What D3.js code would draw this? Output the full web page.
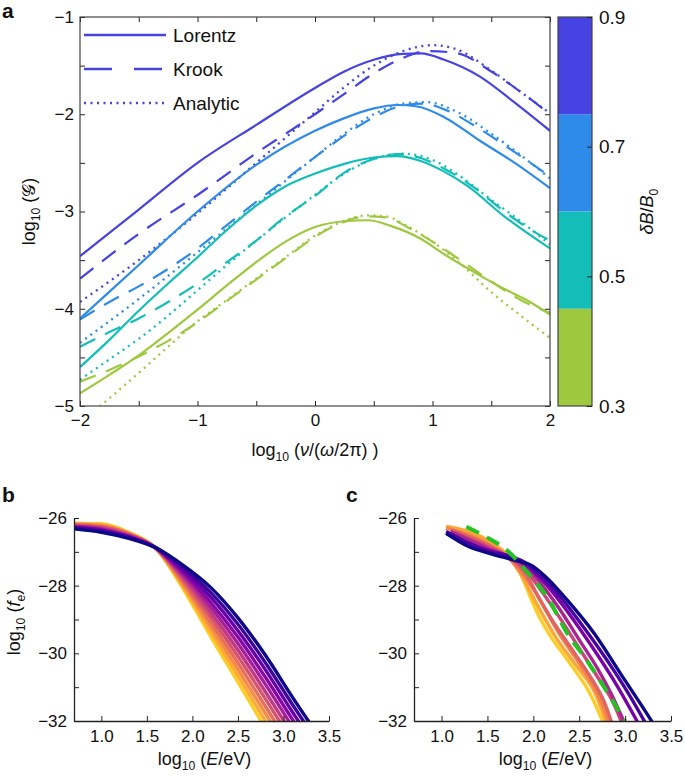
<!DOCTYPE html>
<html>
<head>
<meta charset="utf-8">
<script src="https://cdn.jsdelivr.net/npm/d3@7"></script>
<style>
  body { margin: 0; background: #fff; }
  svg { font-family: "Liberation Sans", Arial, sans-serif; }
</style>
</head>
<body>
<svg id="fig" width="685" height="777"></svg>
<script>
// panel a: spectrum of G for 4 values of dB/B0
const freqTicks = [-2, -1, 0, 1, 2];
const gTicks = [-1, -2, -3, -4, -5];
const dBLevels = [0.9, 0.7, 0.5, 0.3];
const dBColors = ["#4643e2", "#2e8bea", "#13beb8", "#9ec83e"];
const cbTicks = [0.9, 0.7, 0.5, 0.3];
const cbBands = [0.3, 0.45, 0.6, 0.75, 0.9];
const legendNames = ["Lorentz", "Krook", "Analytic"];

// [log10 freq, log10 G], one list per dB level (same order as dBLevels)
const lorentz = [
  [[-2,-3.46],[-1.5,-2.98],[-1,-2.5],[-0.5,-2.11],[0,-1.73],[0.25,-1.56],[0.5,-1.44],[0.75,-1.38],[0.9,-1.375],[1.1,-1.44],[1.4,-1.61],[1.7,-1.88],[2,-2.17]],
  [[-2,-4.1],[-1.5,-3.55],[-1,-3.0],[-0.5,-2.52],[0,-2.17],[0.25,-2.04],[0.5,-1.94],[0.7,-1.905],[0.87,-1.92],[1.1,-2.03],[1.4,-2.27],[1.7,-2.5],[2,-2.76]],
  [[-2,-4.6],[-1.75,-4.32],[-1.5,-4.02],[-1.25,-3.74],[-1,-3.47],[-0.75,-3.19],[-0.5,-2.94],[-0.25,-2.74],[0,-2.61],[0.25,-2.51],[0.5,-2.445],[0.7,-2.43],[0.9,-2.48],[1.1,-2.59],[1.3,-2.74],[1.6,-3.04],[2,-3.38]],
  [[-2,-4.87],[-1.75,-4.68],[-1.5,-4.48],[-1.25,-4.25],[-1,-4.01],[-0.75,-3.76],[-0.5,-3.52],[-0.25,-3.31],[0,-3.16],[0.25,-3.1],[0.45,-3.09],[0.65,-3.15],[0.9,-3.28],[1.1,-3.44],[1.35,-3.62],[1.6,-3.79],[1.8,-3.91],[2,-4.06]]
];
const krook = [
  [[-2,-3.69],[-1.5,-3.23],[-1,-2.83],[-0.5,-2.4],[0,-2.0],[0.25,-1.79],[0.5,-1.58],[0.75,-1.42],[0.95,-1.35],[1.2,-1.37],[1.5,-1.56],[1.75,-1.77],[2,-2.0]],
  [[-2,-4.11],[-1.75,-3.93],[-1.5,-3.77],[-1.25,-3.59],[-1,-3.38],[-0.75,-3.14],[-0.5,-2.9],[-0.25,-2.67],[0,-2.44],[0.25,-2.22],[0.5,-2.03],[0.75,-1.91],[0.92,-1.89],[1.1,-1.95],[1.4,-2.15],[1.7,-2.39],[2,-2.64]],
  [[-2,-4.39],[-1.75,-4.24],[-1.5,-4.1],[-1.25,-3.93],[-1,-3.74],[-0.75,-3.52],[-0.5,-3.3],[-0.25,-3.05],[0,-2.84],[0.25,-2.6],[0.5,-2.46],[0.72,-2.41],[0.9,-2.45],[1.1,-2.56],[1.35,-2.75],[1.6,-2.99],[1.8,-3.16],[2,-3.3]],
  [[-2,-4.75],[-1.75,-4.63],[-1.5,-4.49],[-1.25,-4.33],[-1,-4.14],[-0.75,-3.92],[-0.5,-3.7],[-0.25,-3.48],[0,-3.26],[0.2,-3.13],[0.45,-3.05],[0.6,-3.06],[0.8,-3.17],[1.0,-3.31],[1.25,-3.51],[1.5,-3.72],[1.75,-3.91],[2,-4.04]]
];
const analytic = [
  [[-2,-3.93],[-1.5,-3.5],[-1,-3.02],[-0.5,-2.5],[0,-1.98],[0.25,-1.72],[0.5,-1.5],[0.75,-1.35],[1.0,-1.29],[1.2,-1.33],[1.5,-1.55],[1.75,-1.77],[2,-1.99]],
  [[-2,-4.35],[-1.5,-3.9],[-1,-3.42],[-0.5,-2.93],[0,-2.44],[0.25,-2.2],[0.5,-2.0],[0.75,-1.89],[0.95,-1.875],[1.2,-1.97],[1.5,-2.2],[1.75,-2.42],[2,-2.66]],
  [[-2,-4.73],[-1.75,-4.52],[-1.5,-4.31],[-1.25,-4.07],[-1,-3.81],[-0.75,-3.55],[-0.5,-3.3],[-0.25,-3.06],[0,-2.83],[0.25,-2.61],[0.5,-2.46],[0.75,-2.405],[1,-2.47],[1.25,-2.65],[1.5,-2.88],[1.75,-3.1],[2,-3.34]],
  [[-2,-5.18],[-1.75,-4.92],[-1.5,-4.66],[-1.25,-4.39],[-1,-4.13],[-0.75,-3.91],[-0.5,-3.69],[-0.25,-3.47],[0,-3.25],[0.2,-3.12],[0.45,-3.04],[0.6,-3.05],[0.8,-3.16],[1.0,-3.31],[1.25,-3.55],[1.5,-3.83],[1.75,-4.07],[2,-4.3]]
];

// panel b: model distributions, yellow -> navy
const eTicks = [1.0, 1.5, 2.0, 2.5, 3.0, 3.5];
const fTicks = [-26, -27, -28, -29, -30, -31, -32];
const energyB = [0.7, 1.0, 1.3, 1.6, 1.9, 2.2, 2.5, 2.8, 3.1, 3.4];
const fB = [
  [-26.15,-26.17,-26.42,-26.90,-28.10,-29.50,-30.85,-32.20,-33.50,-34.80],
  [-26.17,-26.20,-26.44,-26.90,-28.03,-29.36,-30.66,-31.99,-33.28,-34.57],
  [-26.18,-26.22,-26.46,-26.90,-27.96,-29.21,-30.47,-31.77,-33.06,-34.34],
  [-26.20,-26.25,-26.47,-26.89,-27.89,-29.07,-30.28,-31.56,-32.84,-34.11],
  [-26.22,-26.27,-26.49,-26.89,-27.82,-28.92,-30.09,-31.34,-32.62,-33.88],
  [-26.24,-26.30,-26.51,-26.89,-27.75,-28.78,-29.90,-31.13,-32.40,-33.65],
  [-26.25,-26.32,-26.53,-26.89,-27.68,-28.63,-29.71,-30.91,-32.18,-33.42],
  [-26.27,-26.35,-26.55,-26.89,-27.61,-28.49,-29.52,-30.70,-31.96,-33.19],
  [-26.29,-26.37,-26.56,-26.88,-27.54,-28.34,-29.33,-30.48,-31.74,-32.96],
  [-26.30,-26.40,-26.58,-26.88,-27.47,-28.20,-29.14,-30.27,-31.52,-32.73],
  [-26.32,-26.42,-26.60,-26.88,-27.40,-28.05,-28.95,-30.05,-31.30,-32.50]
];

// panel c: measured distributions, yellow -> navy, plus green dashed fit
const plasmaC = [0.9, 0.8, 0.7, 0.6, 0.5, 0.38, 0.24, 0.12, 0.0];
const fC = [
  [[1.1,-26.3],[1.3,-26.45],[1.5,-26.7],[1.7,-27.05],[1.85,-27.6],[1.97,-28.35],[2.07,-28.95],[2.2,-29.55],[2.4,-30.3],[2.6,-31.1],[2.77,-32.1]],
  [[1.05,-26.25],[1.3,-26.4],[1.5,-26.65],[1.7,-27.05],[1.85,-27.6],[1.97,-28.2],[2.1,-28.85],[2.25,-29.55],[2.45,-30.3],[2.65,-31.05],[2.8,-32.1]],
  [[1.05,-26.3],[1.3,-26.5],[1.5,-26.75],[1.7,-27.1],[1.85,-27.55],[2.0,-28.1],[2.15,-28.8],[2.3,-29.5],[2.5,-30.3],[2.7,-31.2],[2.83,-32.1]],
  [[1.1,-26.35],[1.3,-26.55],[1.5,-26.8],[1.7,-27.1],[1.9,-27.6],[2.05,-28.3],[2.2,-29.0],[2.4,-29.8],[2.6,-30.6],[2.75,-31.3],[2.86,-32.1]],
  [[1.1,-26.4],[1.3,-26.6],[1.5,-26.85],[1.7,-27.1],[1.9,-27.5],[2.1,-28.2],[2.3,-29.0],[2.5,-29.85],[2.7,-30.7],[2.85,-31.35],[2.97,-32.1]],
  [[1.1,-26.4],[1.3,-26.65],[1.5,-26.9],[1.7,-27.1],[1.9,-27.4],[2.1,-28.0],[2.3,-28.75],[2.5,-29.6],[2.7,-30.45],[2.85,-31.2],[3.0,-32.1]],
  [[1.05,-26.45],[1.3,-26.75],[1.5,-26.95],[1.7,-27.1],[1.9,-27.35],[2.1,-27.85],[2.3,-28.5],[2.5,-29.25],[2.7,-30.05],[2.9,-30.9],[3.15,-32.1]],
  [[1.05,-26.4],[1.3,-26.75],[1.5,-27.0],[1.7,-27.1],[1.9,-27.3],[2.1,-27.75],[2.3,-28.35],[2.5,-29.05],[2.7,-29.8],[2.9,-30.6],[3.05,-31.25],[3.23,-32.1]],
  [[1.05,-26.45],[1.3,-26.85],[1.53,-27.05],[1.78,-27.24],[1.97,-27.39],[2.15,-27.78],[2.37,-28.43],[2.66,-29.4],[2.95,-30.6],[3.17,-31.5],[3.3,-32.05]]
];
const fitC = [[1.27,-26.26],[1.5,-26.58],[1.71,-26.95],[1.93,-27.59],[2.15,-28.33],[2.37,-29.41],[2.58,-30.2],[2.77,-30.99],[2.95,-31.78],[3.0,-32.0]];

const svg = d3.select("#fig");
const ink = "#222";

function styleAxis(g, size) {
  g.selectAll("line").attr("stroke", ink);
  g.selectAll("path.domain").attr("stroke", ink);
  g.selectAll("text").attr("font-size", size).attr("fill", "#111").attr("font-family", "inherit");
}

// rich text: parts of {t, sub, it}
function richText(sel, parts, size) {
  let shift = 0;
  parts.forEach(p => {
    const ts = sel.append("tspan").text(p.t);
    if (p.it) ts.attr("font-style", "italic");
    if (p.font) ts.attr("font-family", p.font);
    if (p.sub) {
      ts.attr("font-size", size * 0.68).attr("dy", size * 0.28 - shift);
      shift = size * 0.28;
    } else if (shift) {
      ts.attr("dy", -shift);
      shift = 0;
    }
  });
}

// ================= panel a =================
const A = { l: 80, r: 550, t: 17, b: 406 };
const xA = d3.scaleLinear().domain([-2, 2]).range([A.l, A.r]);
const yA = d3.scaleLinear().domain([-5, -1]).range([A.b, A.t]);
const halfX = d3.range(-2, 2.001, 0.5);
const halfY = d3.range(-5, -0.999, 0.5);
const intFmt = d => Number.isInteger(d) ? d3.format("d")(d) : "";

svg.append("clipPath").attr("id", "clipA").append("rect")
  .attr("x", A.l).attr("y", A.t).attr("width", A.r - A.l).attr("height", A.b - A.t);

const gA = svg.append("g");
const lineA = d3.line().x(d => xA(d[0])).y(d => yA(d[1])).curve(d3.curveMonotoneX);
const curvesA = gA.append("g").attr("clip-path", "url(#clipA)");

dBLevels.forEach((lvl, i) => {
  curvesA.append("path").datum(analytic[i]).attr("d", lineA)
    .attr("fill", "none").attr("stroke", dBColors[i]).attr("stroke-width", 2.3)
    .attr("stroke-dasharray", "2,4.5");
  curvesA.append("path").datum(krook[i]).attr("d", lineA)
    .attr("fill", "none").attr("stroke", dBColors[i]).attr("stroke-width", 2.2)
    .attr("stroke-dasharray", "17,11");
  curvesA.append("path").datum(lorentz[i]).attr("d", lineA)
    .attr("fill", "none").attr("stroke", dBColors[i]).attr("stroke-width", 2.2);
});

gA.append("g").attr("transform", `translate(0,${A.b})`)
  .call(d3.axisBottom(xA).tickValues(halfX).tickSize(-5).tickSizeOuter(0).tickPadding(8).tickFormat(intFmt))
  .call(g => styleAxis(g, 17));
gA.append("g").attr("transform", `translate(0,${A.t})`)
  .call(d3.axisTop(xA).tickValues(halfX).tickSize(-5).tickSizeOuter(0).tickFormat(""))
  .call(g => styleAxis(g, 17));
gA.append("g").attr("transform", `translate(${A.l},0)`)
  .call(d3.axisLeft(yA).tickValues(halfY).tickSize(-5).tickSizeOuter(0).tickPadding(6).tickFormat(intFmt))
  .call(g => styleAxis(g, 17));
gA.append("g").attr("transform", `translate(${A.r},0)`)
  .call(d3.axisRight(yA).tickValues(halfY).tickSize(-5).tickSizeOuter(0).tickFormat(""))
  .call(g => styleAxis(g, 17));
gA.selectAll("path.domain").remove();
gA.append("rect").attr("x", A.l).attr("y", A.t).attr("width", A.r - A.l).attr("height", A.b - A.t)
  .attr("fill", "none").attr("stroke", "#444").attr("stroke-width", 1.2);

// legend
const legDash = [null, "28,22", "2,4.5"];
legendNames.forEach((name, k) => {
  const y = 35 + k * 34;
  gA.append("line").attr("x1", 84).attr("x2", 166).attr("y1", y).attr("y2", y)
    .attr("stroke", dBColors[0]).attr("stroke-width", 2.3)
    .attr("stroke-dasharray", legDash[k]);
  gA.append("text").attr("x", 173).attr("y", y + 7).attr("font-size", 19).attr("fill", "#111").text(name);
});

// axis titles
richText(svg.append("text").attr("text-anchor", "middle")
  .attr("transform", `translate(35,${(A.t + A.b) / 2}) rotate(-90)`).attr("font-size", 18).attr("fill", "#111"),
  [{ t: "log" }, { t: "10", sub: true }, { t: " (" }, { t: "𝒢", font: "DejaVu Sans" }, { t: ")" }], 18);
richText(svg.append("text").attr("text-anchor", "middle").attr("x", 315).attr("y", 456)
  .attr("font-size", 18).attr("fill", "#111"),
  [{ t: "log" }, { t: "10", sub: true }, { t: " (" }, { t: "ν", it: true }, { t: "/(" }, { t: "ω", it: true }, { t: "/2π) )" }], 18);

// colorbar
const CB = { l: 558, r: 592 };
const yCB = d3.scaleLinear().domain([0.3, 0.9]).range([A.b, A.t]);
const bandColors = dBColors.slice().reverse();
d3.pairs(cbBands).forEach(([lo, hi], k) => {
  svg.append("rect").attr("x", CB.l).attr("width", CB.r - CB.l)
    .attr("y", yCB(hi)).attr("height", yCB(lo) - yCB(hi)).attr("fill", bandColors[k]);
});
svg.append("rect").attr("x", CB.l).attr("y", A.t).attr("width", CB.r - CB.l).attr("height", A.b - A.t)
  .attr("fill", "none").attr("stroke", "#444").attr("stroke-width", 1.2);
svg.append("g").attr("transform", `translate(${CB.r},0)`)
  .call(d3.axisRight(yCB).tickValues(cbTicks).tickSize(-5).tickSizeOuter(0).tickPadding(7).tickFormat(d3.format(".1f")))
  .call(g => { styleAxis(g, 19); g.select("path.domain").remove(); });
richText(svg.append("text").attr("text-anchor", "middle")
  .attr("transform", `translate(653,${(A.t + A.b) / 2}) rotate(-90)`).attr("font-size", 18).attr("fill", "#111"),
  [{ t: "δB", it: true }, { t: "/" }, { t: "B", it: true }, { t: "0", sub: true }], 18);

// ================= panels b and c =================
function spectrumPanel(left, right, label, labelX, drawCurves) {
  const top = 518, bottom = 721;
  const x = d3.scaleLinear().domain([0.7, 3.5]).range([left, right]);
  const y = d3.scaleLinear().domain([-32, -26]).range([bottom, top]);
  const id = "clip" + label;
  svg.append("clipPath").attr("id", id).append("rect")
    .attr("x", left).attr("y", top - 10).attr("width", right - left).attr("height", bottom - top + 10);
  const g = svg.append("g");
  drawCurves(g.append("g").attr("clip-path", `url(#${id})`), x, y);
  g.append("g").attr("transform", `translate(0,${bottom})`)
    .call(d3.axisBottom(x).tickValues(eTicks).tickSize(-5).tickSizeOuter(0).tickPadding(9).tickFormat(d3.format(".1f")))
    .call(a => styleAxis(a, 17));
  g.append("g").attr("transform", `translate(${left},0)`)
    .call(d3.axisLeft(y).tickValues(fTicks).tickSize(-5).tickSizeOuter(0).tickPadding(7)
      .tickFormat(d => d % 2 === 0 ? d3.format("d")(d) : ""))
    .call(a => styleAxis(a, 17));
  g.selectAll("path.domain").attr("stroke-width", 1.3);
  richText(svg.append("text").attr("text-anchor", "middle").attr("x", (left + right) / 2 + 3).attr("y", 765)
    .attr("font-size", 18).attr("fill", "#111"),
    [{ t: "log" }, { t: "10", sub: true }, { t: " (" }, { t: "E", it: true }, { t: "/eV)" }], 18);
  svg.append("text").attr("x", labelX).attr("y", 502).attr("font-size", 21).attr("font-weight", "bold")
    .attr("fill", "#111").text(label);
}

spectrumPanel(74, 329, "b", 2, (g, x, y) => {
  const line = d3.line().x((d, j) => x(energyB[j])).y(d => y(d)).curve(d3.curveMonotoneX);
  fB.forEach((row, k) => {
    g.append("path").datum(row).attr("d", line).attr("fill", "none")
      .attr("stroke", d3.interpolatePlasma(0.9 * (1 - k / (fB.length - 1))))
      .attr("stroke-width", 3.4);
  });
});

spectrumPanel(414, 671, "c", 346, (g, x, y) => {
  const line = d3.line().x(d => x(d[0])).y(d => y(d[1])).curve(d3.curveCatmullRom);
  fC.forEach((pts, k) => {
    g.append("path").datum(pts).attr("d", line).attr("fill", "none")
      .attr("stroke", d3.interpolatePlasma(plasmaC[k])).attr("stroke-width", 3.4);
  });
  g.append("path").datum(fitC).attr("d", line).attr("fill", "none")
    .attr("stroke", "#22c322").attr("stroke-width", 4).attr("stroke-dasharray", "14,9");
});

richText(svg.append("text").attr("text-anchor", "middle")
  .attr("transform", `translate(20,622) rotate(-90)`).attr("font-size", 18).attr("fill", "#111"),
  [{ t: "log" }, { t: "10", sub: true }, { t: " (" }, { t: "f", it: true }, { t: "e", sub: true }, { t: ")" }], 18);

svg.append("text").attr("x", 2).attr("y", 18).attr("font-size", 21).attr("font-weight", "bold")
  .attr("fill", "#111").text("a");
</script>
</body>
</html>
